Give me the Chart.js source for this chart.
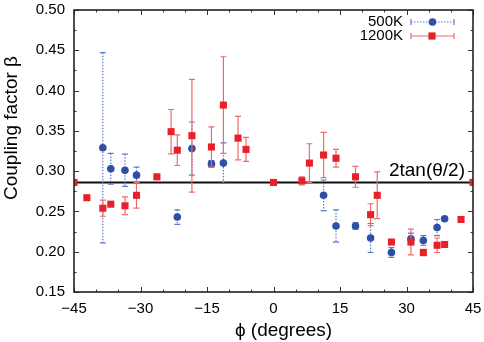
<!DOCTYPE html>
<html><head><meta charset="utf-8">
<script src="https://cdn.jsdelivr.net/npm/chart.js@4.4.1/dist/chart.umd.min.js"></script>
<style>html,body{margin:0;padding:0;background:#fff}#wrap{width:484px;height:342px}</style>
</head><body><div id="wrap"><canvas id="c" width="484" height="342"></canvas></div>
<script>
const seriesNames = ['500K', '1200K'];
const phi500  = [-38.5, -36.7, -33.5, -30.9, -21.7, -18.4, -14.0, -11.3, 11.3, 14.1, 18.5, 21.9, 26.6, 31.0, 33.8, 36.9, 38.6];
const beta500 = [0.329, 0.303, 0.301, 0.295, 0.243, 0.328, 0.309, 0.310, 0.270, 0.232, 0.232, 0.217, 0.199, 0.216, 0.214, 0.230, 0.241];
const err500  = [0.118, 0.019, 0.020, 0.010, 0.009, 0.033, 0.004, 0.025, 0.019, 0.020, 0.004, 0.018, 0.006, 0.007, 0.006, 0.010, 0.002];
const phi1200  = [-45, -42.1, -38.5, -36.7, -33.5, -30.9, -26.3, -23.1, -21.7, -18.4, -14.0, -11.3, -8.0, -6.2, 0, 6.4, 8.1, 11.3, 14.1, 18.5, 21.9, 23.4, 26.6, 31.0, 33.8, 36.9, 38.6, 42.3, 45];
const beta1200 = [0.286, 0.267, 0.254, 0.259, 0.257, 0.270, 0.293, 0.349, 0.326, 0.344, 0.330, 0.382, 0.341, 0.327, 0.286, 0.288, 0.310, 0.320, 0.316, 0.293, 0.246, 0.270, 0.212, 0.212, 0.199, 0.208, 0.209, 0.240, 0.286];
const err1200  = [0, 0, 0.010, 0, 0.011, 0.016, 0.002, 0.0275, 0.019, 0.070, 0.025, 0.060, 0.027, 0.015, 0.002, 0.005, 0.024, 0.028, 0.011, 0.013, 0.0135, 0.029, 0, 0.016, 0.004, 0.009, 0, 0, 0];
const xTickValues = [-45, -30, -15, 0, 15, 30, 45];
const xTickLabels = ['\u221245', '\u221230', '\u221215', '0', '15', '30', '45'];
const yTickValues = [0.15, 0.20, 0.25, 0.30, 0.35, 0.40, 0.45, 0.50];
const yTickLabels = ['0.15', '0.20', '0.25', '0.30', '0.35', '0.40', '0.45', '0.50'];
const refLevel = 0.286;
const refLabel = '2tan(\u03B8/2)';
const xTitle = '\u03D5 (degrees)';
const yTitle = 'Coupling factor \u03B2';

const BLUE = '#2f4fa6', BLUE_ERR = '#5b7bd0';
const RED = '#e8202a', RED_ERR = '#f06a6a';
const FONT = '"Liberation Sans", Arial, sans-serif';

function pts(xs, ys) { return xs.map((x, i) => ({x: x, y: ys[i]})); }

const errorBars = {
  id: 'errorBars',
  beforeDatasetDraw(chart, args) {
    const ds = chart.data.datasets[args.index];
    if (!ds.errors) return;
    const {ctx, scales: {x, y}} = chart;
    ctx.save();
    ctx.strokeStyle = ds.errColor;
    ctx.lineWidth = 1.2;
    ctx.setLineDash(ds.errDash || []);
    ds.data.forEach((p, i) => {
      const e = ds.errors[i];
      if (!e) return;
      const px = x.getPixelForValue(p.x);
      const y1 = y.getPixelForValue(p.y + e), y2 = y.getPixelForValue(p.y - e);
      ctx.beginPath(); ctx.moveTo(px, y1); ctx.lineTo(px, y2); ctx.stroke();
      ctx.setLineDash([]);
      ctx.beginPath();
      ctx.moveTo(px - 3, y1); ctx.lineTo(px + 3, y1);
      ctx.moveTo(px - 3, y2); ctx.lineTo(px + 3, y2);
      ctx.stroke();
      ctx.setLineDash(ds.errDash || []);
    });
    ctx.restore();
  }
};

const decor = {
  id: 'decor',
  afterDraw(chart) {
    const {ctx, chartArea: a, scales: {x, y}} = chart;
    ctx.save();
    ctx.strokeStyle = '#333'; ctx.lineWidth = 1;
    ctx.beginPath();
    for (let v = xTickValues[0]; v <= xTickValues[xTickValues.length - 1] + 1e-9; v += 5) {
      const px = Math.round(x.getPixelForValue(v)) + 0.5;
      const L = (Math.abs(v % 15) < 1e-9) ? 5 : 2.5;
      ctx.moveTo(px, a.bottom); ctx.lineTo(px, a.bottom - L);
      ctx.moveTo(px, a.top); ctx.lineTo(px, a.top + L);
    }
    for (let k = 0; k <= 14; k++) {
      const v = yTickValues[0] + k * 0.025;
      const py = Math.round(y.getPixelForValue(v)) + 0.5;
      const L = (k % 2 === 0) ? 5 : 2.5;
      ctx.moveTo(a.left, py); ctx.lineTo(a.left + L, py);
      ctx.moveTo(a.right, py); ctx.lineTo(a.right - L, py);
    }
    ctx.stroke();
    ctx.lineWidth = 1.6; ctx.strokeStyle = '#222';
    ctx.strokeRect(a.left, a.top, a.right - a.left, a.bottom - a.top);

    ctx.fillStyle = '#000';
    ctx.font = '19px ' + FONT;
    ctx.textAlign = 'right'; ctx.textBaseline = 'alphabetic';
    ctx.fillText(refLabel, a.right - 8, y.getPixelForValue(refLevel) - 6);

    ctx.textAlign = 'center';
    ctx.fillText(xTitle, a.left + (a.right - a.left) / 2 + 10, 336);
    ctx.save();
    ctx.translate(17, 128); ctx.rotate(-Math.PI / 2);
    ctx.fillText(yTitle, 0, 0);
    ctx.restore();

    ctx.font = '15px ' + FONT;
    ctx.textAlign = 'right'; ctx.textBaseline = 'middle';
    const rows = [
      {ds: chart.data.datasets[1], yy: 22},
      {ds: chart.data.datasets[0], yy: 36}
    ];
    rows.forEach(r => {
      ctx.fillStyle = '#000';
      ctx.fillText(r.ds.label, 403, r.yy);
      ctx.strokeStyle = r.ds.errColor; ctx.lineWidth = 1.2;
      ctx.setLineDash(r.ds.errDash || []);
      ctx.beginPath(); ctx.moveTo(411, r.yy); ctx.lineTo(454, r.yy); ctx.stroke();
      ctx.setLineDash([]);
      ctx.beginPath();
      ctx.moveTo(411, r.yy - 3); ctx.lineTo(411, r.yy + 3);
      ctx.moveTo(454, r.yy - 3); ctx.lineTo(454, r.yy + 3);
      ctx.stroke();
      ctx.fillStyle = r.ds.backgroundColor;
      if (r.ds.pointStyle === 'rect') { ctx.fillRect(432 - 3.6, r.yy - 3.6, 7.2, 7.2); }
      else { ctx.beginPath(); ctx.arc(432.5, r.yy, 3.8, 0, Math.PI * 2); ctx.fill(); }
    });
    ctx.restore();
  }
};

new Chart(document.getElementById('c'), {
  type: 'scatter',
  data: {
    datasets: [
      {label: seriesNames[1], data: pts(phi1200, beta1200), errors: err1200, errColor: RED_ERR,
       pointStyle: 'rect', pointRadius: 5, pointHoverRadius: 5, backgroundColor: RED, borderColor: RED, borderWidth: 0, order: 0},
      {label: seriesNames[0], data: pts(phi500, beta500), errors: err500, errColor: BLUE_ERR, errDash: [1.5, 1.5],
       pointStyle: 'circle', pointRadius: 3.8, pointHoverRadius: 3.8, backgroundColor: BLUE, borderColor: BLUE, borderWidth: 0, order: 1},
      {type: 'line', label: refLabel, data: [{x: xTickValues[0], y: refLevel}, {x: xTickValues[xTickValues.length - 1], y: refLevel}],
       borderColor: '#111', borderWidth: 2, pointRadius: 0, fill: false, order: 2}
    ]
  },
  options: {
    responsive: false, animation: false,
    layout: {padding: {top: 10, right: 11, left: 0, bottom: 0}},
    plugins: {legend: {display: false}, tooltip: {enabled: false}},
    scales: {
      x: {
        type: 'linear', min: -45, max: 45,
        afterBuildTicks: s => { s.ticks = xTickValues.map(v => ({value: v})); },
        afterFit: s => { s.height = 50; s.paddingLeft = 0; s.paddingRight = 0; },
        grid: {display: false, drawTicks: false},
        border: {display: false},
        ticks: {padding: 8, color: '#000', font: {size: 15, family: FONT}, maxRotation: 0,
                callback: (v) => xTickLabels[xTickValues.indexOf(v)]}
      },
      y: {
        type: 'linear', min: 0.15, max: 0.50,
        afterBuildTicks: s => { s.ticks = yTickValues.map(v => ({value: v})); },
        afterFit: s => { s.width = 74; s.paddingTop = 0; s.paddingBottom = 0; },
        grid: {display: false, drawTicks: false},
        border: {display: false},
        ticks: {padding: 9, color: '#000', font: {size: 15, family: FONT},
                callback: (v) => yTickLabels[yTickValues.findIndex(t => Math.abs(t - v) < 1e-9)]}
      }
    }
  },
  plugins: [errorBars, decor]
});
</script></body></html>
